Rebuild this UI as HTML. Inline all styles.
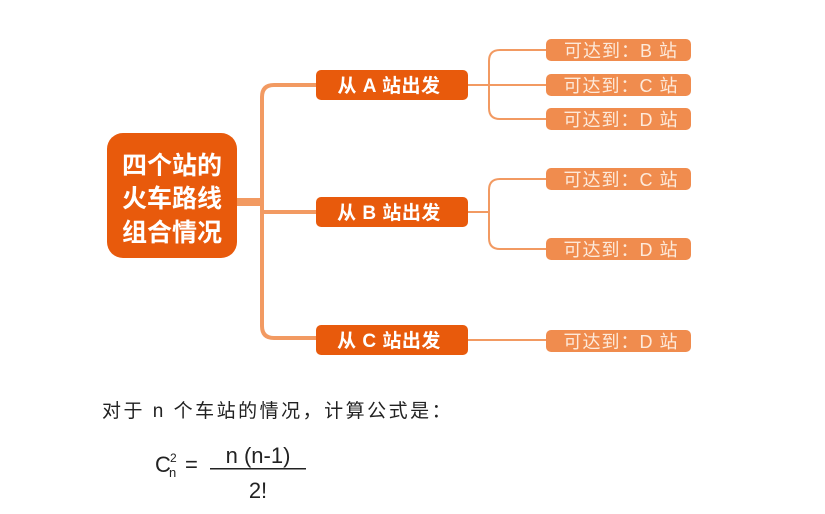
<!DOCTYPE html>
<html><head><meta charset="utf-8"><style>
html,body{margin:0;padding:0;background:#fff;}
svg{display:block;}
text{font-family:"Liberation Sans","Noto Sans CJK SC",sans-serif;}
</style></head><body>
<svg width="825" height="514" viewBox="0 0 825 514" xmlns="http://www.w3.org/2000/svg">
<g fill="none" stroke="#f29a62">
  <path d="M236 202 H262" stroke-width="8"/>
  <path d="M316 85 H274 Q262 85 262 97 V326 Q262 338 274 338 H316" stroke-width="4"/>
  <path d="M262 212 H316" stroke-width="4"/>
  <g stroke-width="2">
    <path d="M468 85 H546"/>
    <path d="M546 50 H500 Q489 50 489 61 V108 Q489 119 500 119 H546"/>
    <path d="M468 212 H489"/>
    <path d="M546 179 H500 Q489 179 489 190 V238 Q489 249 500 249 H546"/>
    <path d="M468 340 H546"/>
  </g>
</g>
<rect x="107" y="133" width="130" height="125" rx="16" fill="#e85a0c"/>
<g fill="#fff" font-size="25" font-weight="bold" text-anchor="middle">
  <text x="172" y="174">四个站的</text>
  <text x="172" y="207">火车路线</text>
  <text x="172" y="241">组合情况</text>
</g>
<g fill="#e85a0c">
  <rect x="316" y="70" width="152" height="30" rx="5"/>
  <rect x="316" y="197" width="152" height="30" rx="5"/>
  <rect x="316" y="325" width="152" height="30" rx="5"/>
</g>
<g fill="#fff" font-size="19" font-weight="bold" text-anchor="middle" letter-spacing="0.5">
  <text x="389" y="92">从 A 站出发</text>
  <text x="389" y="219">从 B 站出发</text>
  <text x="389" y="347">从 C 站出发</text>
</g>
<g fill="#f08c4e">
  <rect x="546" y="39" width="145" height="22" rx="5"/>
  <rect x="546" y="74" width="145" height="22" rx="5"/>
  <rect x="546" y="108" width="145" height="22" rx="5"/>
  <rect x="546" y="168" width="145" height="22" rx="5"/>
  <rect x="546" y="238" width="145" height="22" rx="5"/>
  <rect x="546" y="330" width="145" height="22" rx="5"/>
</g>
<g fill="#fdeadb" font-size="18" text-anchor="middle" letter-spacing="1">
  <text x="621" y="57">可达到：B 站</text>
  <text x="621" y="92">可达到：C 站</text>
  <text x="621" y="126">可达到：D 站</text>
  <text x="621" y="186">可达到：C 站</text>
  <text x="621" y="256">可达到：D 站</text>
  <text x="621" y="348">可达到：D 站</text>
</g>
<g fill="#222">
  <text x="102" y="417" font-size="19" letter-spacing="2.5">对于 n 个车站的情况，计算公式是：</text>
  <text x="155" y="472" font-size="22">C</text>
  <text x="170" y="462" font-size="12">2</text>
  <text x="169" y="477" font-size="13">n</text>
  <text x="185" y="472" font-size="22">=</text>
  <text x="258" y="463" font-size="22" text-anchor="middle">n (n-1)</text>
  <rect x="210" y="468" width="96" height="1.5"/>
  <text x="258" y="498" font-size="22" text-anchor="middle">2!</text>
</g>
</svg>
</body></html>
